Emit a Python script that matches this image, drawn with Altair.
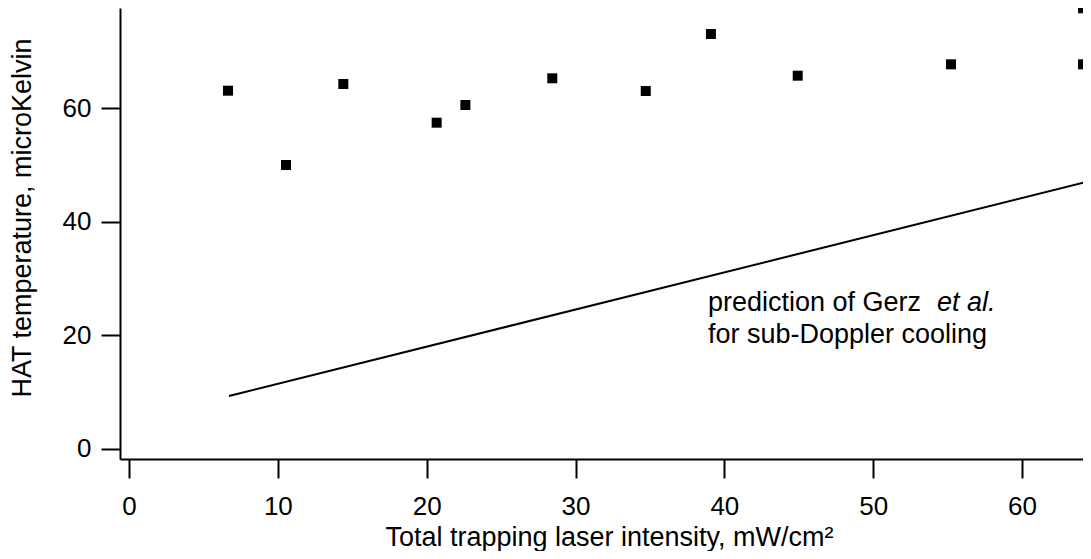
import altair as alt
import pandas as pd

# Measured data (HAT temperature vs. total trapping laser intensity)
# (the last two points sit on the right edge of the frame)
intensity = [6.65, 10.55, 14.4, 20.67, 22.6, 28.44, 34.72, 39.1, 44.93, 55.23, 64.1, 64.1]
temperature = [63.05, 49.97, 64.23, 57.42, 60.53, 65.23, 62.99, 73.02, 65.69, 67.69, 67.69, 77.55]

# Prediction of Gerz et al. (straight line)
pred_x = [6.72, 65.5]
pred_y = [9.33, 47.75]

# Annotation
note_lines = ["prediction of Gerz", "for sub-Doppler cooling"]
note_x = [38.9, 38.9]
note_y = [24.3, 18.65]
note_italic = ["et al."]

x_ticks = [0, 10, 20, 30, 40, 50, 60]
y_ticks = [0, 20, 40, 60]

FONT = "Liberation Sans"

pts = pd.DataFrame({"x": intensity, "y": temperature})
pred = pd.DataFrame({"x": pred_x, "y": pred_y})
notes = pd.DataFrame({"x": note_x, "y": note_y, "t": note_lines})
notes_it = pd.DataFrame({"x": note_x[:1], "y": note_y[:1], "t": note_italic})

xscale = alt.Scale(domain=[-0.605, 64.098], nice=False, zero=False)
yscale = alt.Scale(domain=[-1.76, 77.6], nice=False, zero=False)

xaxis = alt.Axis(
    values=x_ticks, title="Total trapping laser intensity, mW/cm²",
    grid=False, domainColor="black", domainWidth=2, tickColor="black",
    tickWidth=2, tickSize=19, labelFont=FONT, labelFontSize=26,
    labelColor="black", labelBaseline="alphabetic", labelPadding=36,
    titleFont=FONT, titleFontSize=27, titleFontWeight="normal",
    titleColor="black", titleBaseline="alphabetic", titleAlign="center",
    titleX=489, titleY=86, labelFlush=False,
)
yaxis = alt.Axis(
    values=y_ticks, title="HAT temperature, microKelvin",
    grid=False, domainColor="black", domainWidth=2, tickColor="black",
    tickWidth=2, tickSize=19, labelFont=FONT, labelFontSize=26,
    labelColor="black", labelPadding=10, labelFlush=False,
    titleFont=FONT, titleFontSize=27, titleFontWeight="normal",
    titleColor="black", titleAngle=270, titleAlign="center",
    titleBaseline="middle", titleX=-97.5, titleY=209.5,
)

line = alt.Chart(pred).mark_line(color="black", strokeWidth=2, clip=True).encode(
    x=alt.X("x:Q", scale=xscale, axis=xaxis),
    y=alt.Y("y:Q", scale=yscale, axis=yaxis),
)

points = alt.Chart(pts).mark_square(color="black", size=100, opacity=1, filled=True).encode(
    x=alt.X("x:Q", scale=xscale),
    y=alt.Y("y:Q", scale=yscale),
)

text1 = alt.Chart(notes).mark_text(
    align="left", baseline="alphabetic", font=FONT, fontSize=27, color="black"
).encode(x=alt.X("x:Q", scale=xscale), y=alt.Y("y:Q", scale=yscale), text="t:N")

text2 = alt.Chart(notes_it).mark_text(
    align="left", baseline="alphabetic", font=FONT, fontSize=27, color="black",
    fontStyle="italic", dx=229
).encode(x=alt.X("x:Q", scale=xscale), y=alt.Y("y:Q", scale=yscale), text="t:N")

chart = alt.layer(line, points, text1, text2).properties(
    width=963, height=451,
    autosize=alt.AutoSizeParams(type="none"),
    padding={"left": 112, "top": 0, "right": 0, "bottom": 92},
    background="white",
).configure_view(stroke=None)

chart.save("out.html", embed_options={"renderer": "svg", "actions": False})
